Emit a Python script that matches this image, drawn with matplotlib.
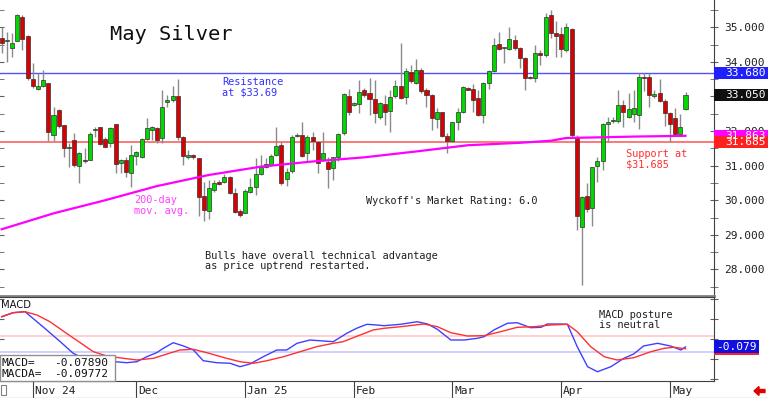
import numpy as np
import matplotlib; matplotlib.use("Agg")
import matplotlib.pyplot as plt
from matplotlib.patches import Rectangle, FancyArrow
from matplotlib.transforms import blended_transform_factory as blend

MONO = "DejaVu Sans Mono"
GRN, RED = "#00d800", "#d80000"

# daily OHLC, Oct 24 2024 .. May 6 2025 (trading-day index)
opens = [34.68, 34.59, 34.39, 34.59, 35.31, 34.75, 33.51, 33.21, 33.30, 33.38,
         31.89, 32.61, 32.17, 31.50, 31.74, 30.99, 31.17, 31.17, 32.02, 32.11,
         31.76, 31.65, 32.20, 31.07, 31.15, 30.80, 31.28, 31.24, 31.76, 32.03,
         32.10, 31.79, 32.85, 32.90, 33.01, 31.82, 31.26, 31.31, 31.21, 30.11,
         29.70, 30.30, 30.54, 30.54, 30.68, 30.22, 29.69, 29.64, 30.25, 30.38,
         30.76, 30.97, 31.01, 31.31, 31.60, 30.62, 30.85, 31.86, 31.89, 31.36,
         31.82, 31.69, 31.17, 31.10, 30.92, 31.24, 31.94, 33.02, 32.76, 32.77,
         33.19, 33.09, 32.93, 32.40, 32.78, 32.58, 33.00, 33.31, 32.98, 33.72,
         33.40, 33.77, 33.19, 33.04, 32.35, 32.54, 31.87, 31.70, 32.26, 32.56,
         33.24, 33.21, 32.95, 32.47, 33.38, 33.74, 34.51, 34.39, 34.37, 34.63,
         34.41, 34.12, 33.56, 33.53, 34.27, 34.20, 35.36, 34.83, 34.80, 34.34,
         34.94, 31.84, 29.22, 30.11, 29.77, 31.00, 31.12, 32.20, 32.28, 32.30,
         32.76, 32.42, 32.49, 32.45, 33.56, 33.55, 33.02, 33.09, 32.88, 32.51,
         32.39, 31.92, 32.64]
highs = [35.02, 34.87, 34.83, 35.39, 35.36, 34.78, 33.96, 33.67, 33.77, 33.38,
         32.69, 32.63, 32.18, 31.65, 31.94, 31.38, 31.50, 31.98, 32.11, 32.13,
         31.82, 32.13, 32.21, 31.18, 31.26, 31.60, 31.41, 31.79, 32.37, 32.15,
         32.13, 33.19, 33.04, 33.30, 33.51, 31.86, 31.45, 31.34, 31.21, 30.54,
         30.59, 30.59, 30.59, 30.76, 30.70, 30.35, 29.74, 30.32, 30.64, 31.21,
         31.31, 31.21, 31.34, 32.13, 31.67, 30.92, 31.89, 31.94, 32.27, 31.89,
         31.98, 31.70, 31.98, 31.26, 31.26, 31.94, 33.09, 33.21, 32.85, 33.48,
         33.24, 33.53, 33.48, 32.85, 33.04, 33.19, 33.48, 34.56, 33.82, 33.91,
         34.07, 33.82, 33.24, 33.06, 32.68, 32.56, 31.94, 32.27, 32.66, 33.30,
         33.26, 33.36, 33.19, 33.43, 33.77, 34.68, 34.86, 34.44, 35.00, 34.78,
         34.44, 34.15, 33.58, 34.49, 34.34, 35.40, 35.50, 35.19, 35.02, 35.13,
         34.97, 31.89, 30.11, 30.51, 30.97, 31.24, 32.23, 32.40, 32.42, 33.19,
         32.90, 33.09, 33.19, 33.69, 33.69, 33.69, 33.19, 33.51, 32.92, 32.56,
         32.68, 32.49, 33.14]
lows = [34.25, 34.01, 34.15, 34.59, 34.35, 33.48, 33.24, 33.19, 33.27, 31.70,
        31.70, 32.08, 31.26, 30.97, 30.97, 30.49, 31.09, 31.15, 31.84, 31.60,
        31.53, 31.55, 30.80, 30.78, 30.68, 30.39, 31.02, 31.21, 31.74, 31.74,
        31.65, 31.65, 32.71, 32.85, 31.74, 31.02, 31.18, 31.18, 29.53, 29.41,
        29.46, 30.25, 30.44, 30.49, 30.18, 29.62, 29.51, 29.62, 30.20, 30.15,
        30.73, 30.92, 30.99, 31.28, 30.44, 30.41, 30.80, 31.84, 31.24, 31.12,
        31.46, 30.78, 31.12, 30.35, 30.59, 31.12, 31.89, 32.47, 32.73, 32.51,
        32.99, 32.47, 32.23, 32.34, 32.18, 31.96, 32.95, 32.93, 32.78, 33.40,
        33.36, 33.09, 32.71, 32.03, 32.08, 31.84, 31.36, 31.67, 32.03, 32.51,
        33.19, 32.54, 32.44, 32.23, 33.21, 33.72, 34.34, 33.96, 34.34, 34.34,
        33.82, 33.19, 33.50, 33.43, 33.91, 34.13, 34.68, 34.15, 34.15, 34.30,
        31.79, 29.14, 27.55, 29.67, 29.24, 30.54, 30.88, 31.67, 32.23, 32.24,
        32.11, 32.37, 32.27, 32.05, 33.17, 32.71, 32.95, 32.85, 32.15, 31.67,
        31.89, 31.89, 32.61]
closes = [34.56, 34.63, 34.56, 35.36, 34.65, 33.53, 33.29, 33.30, 33.48, 31.98,
          32.47, 32.15, 31.50, 31.55, 31.02, 31.36, 31.12, 31.91, 32.05, 31.63,
          31.55, 32.09, 31.05, 31.15, 30.83, 31.31, 31.38, 31.76, 32.08, 32.12,
          31.74, 32.69, 32.90, 33.02, 31.84, 31.28, 31.30, 31.24, 30.08, 29.72,
          30.35, 30.49, 30.48, 30.68, 30.22, 29.65, 29.58, 30.28, 30.37, 30.76,
          30.95, 31.05, 31.29, 31.58, 30.51, 30.83, 31.84, 31.90, 31.28, 31.84,
          31.70, 31.09, 31.36, 30.91, 31.26, 31.91, 33.06, 32.54, 32.80, 33.14,
          33.04, 32.93, 32.51, 32.80, 32.56, 32.99, 33.29, 32.97, 33.74, 33.45,
          33.77, 33.17, 33.04, 32.37, 32.56, 31.87, 31.70, 32.26, 32.56, 33.26,
          33.20, 32.90, 32.47, 33.38, 33.74, 34.49, 34.36, 34.42, 34.65, 34.41,
          34.12, 33.53, 33.52, 34.25, 34.20, 35.31, 34.83, 34.76, 34.36, 35.00,
          31.89, 29.53, 30.09, 29.75, 30.95, 31.12, 32.21, 32.27, 32.32, 32.76,
          32.54, 32.64, 32.66, 33.55, 33.53, 33.04, 33.07, 32.88, 32.51, 32.21,
          31.91, 32.13, 33.05]

# 200-day moving average read at a few bars
ma_idx = [0, 10, 20, 30, 40, 50, 60, 70, 80, 90, 100, 106, 109, 116, 122, 132]
ma_val = [29.16, 29.62, 30.00, 30.41, 30.73, 30.97, 31.12, 31.24, 31.41, 31.59,
          31.66, 31.72, 31.80, 31.82, 31.84, 31.863]

# MACD (blue) and MACDA signal (red)
macd_k = [0, 2.2, 4.5, 6.8, 8.7, 11.3, 13.8, 16.4, 19.0, 21.9, 24.1, 26.1, 28.0, 29.9, 31.2,
          33.1, 35.1, 37.0, 38.9, 41.5, 44.1, 46.0, 47.9, 50.5, 53.1, 55.0, 57.0, 59.5, 62.1,
          64.0, 66.6, 68.5, 70.5, 72.4, 73.8, 77.0, 80.2, 82.2, 84.1, 86.7, 89.3, 91.8, 93.1,
          95.0, 97.6, 99.5, 102.1, 104.1, 105.3, 107.9, 109.2, 111.1, 113.1, 115.0, 117.6,
          120.1, 122.0, 123.9, 126.6, 129.1, 131.1, 132]
macd_v = [0.223, 0.263, 0.273, 0.173, 0.09, -0.027, -0.143, -0.21, -0.24, -0.227, -0.237,
          -0.227, -0.177, -0.137, -0.093, -0.037, -0.07, -0.11, -0.217, -0.237, -0.243,
          -0.277, -0.25, -0.177, -0.11, -0.11, -0.043, -0.01, -0.02, -0.027, 0.057, 0.107,
          0.147, 0.14, 0.133, 0.147, 0.173, 0.15, 0.097, -0.01, -0.01, 0.007, 0.023, 0.09,
          0.157, 0.163, 0.113, 0.117, 0.15, 0.15, 0.147, -0.077, -0.277, -0.327, -0.277,
          -0.193, -0.15, -0.07, -0.043, -0.07, -0.11, -0.079]
sig_k = [0, 2.2, 4.5, 6.8, 9.3, 12.5, 15.8, 17.7, 20.3, 23.5, 26.1, 29.3, 31.9, 34.4, 37.0,
         39.6, 43.4, 46.0, 48.6, 51.2, 54.4, 57.6, 60.8, 64.0, 65.9, 69.2, 71.7, 73.8, 77.0,
         81.5, 84.1, 86.7, 89.9, 93.1, 96.3, 99.5, 102.8, 106.0, 109.2, 111.1, 113.7, 116.3,
         118.8, 122.0, 125.3, 127.9, 129.8, 132]
sig_v = [0.223, 0.263, 0.273, 0.24, 0.173, 0.057, -0.06, -0.127, -0.17, -0.193, -0.21,
         -0.193, -0.15, -0.11, -0.103, -0.137, -0.193, -0.227, -0.243, -0.217, -0.177,
         -0.127, -0.077, -0.043, -0.027, 0.04, 0.09, 0.107, 0.123, 0.15, 0.123, 0.063, 0.03,
         0.033, 0.073, 0.117, 0.123, 0.14, 0.147, 0.073, -0.077, -0.177, -0.21, -0.187,
         -0.127, -0.093, -0.083, -0.0977]

months = ["Nov 24", "Dec", "Jan 25", "Feb", "Mar", "Apr", "May"]
month_idx = [6, 26, 47, 68, 87, 108, 129]

resist, support, last, ma_last = 33.68, 31.685, 33.05, 31.863
macd_last, macda_last = -0.07890, -0.09772

o, h, l, c = map(np.array, (opens, highs, lows, closes))
k = np.arange(len(o))
XL = (-0.33, 137.5)

fig = plt.figure(figsize=(7.68, 3.98), dpi=100)
ax = fig.add_axes([0, 1 - 296/398, 714/768, 296/398])
ax2 = fig.add_axes([0, 1 - 381/398, 714/768, 84/398])
ax3 = fig.add_axes([0, 0, 714/768, 17/398])

# ---- price panel
ax.axhline(resist, color="#5050ff", lw=1, zorder=1)
ax.axhline(support, color="#ff6060", lw=1.2, zorder=1)
ax.vlines(k, l, h, color="#8a8a8a", lw=1, zorder=2)
up = c >= o
ax.bar(k, np.abs(c - o), bottom=np.minimum(o, c), width=0.78,
       color=np.where(up, GRN, RED), edgecolor="#303030", linewidth=0.5, zorder=3)
ax.plot(ma_idx, ma_val, color="#ff00ff", lw=1.6, zorder=4)
ax.set_xlim(*XL); ax.set_ylim(27.23, 35.79)
ax.set_xticks([])
ax.yaxis.tick_right()
ax.set_yticks(range(28, 36))
ax.set_yticks(np.arange(27.5, 35.6, 0.5), minor=True)
# 33.000 sits fully under the last-price box in the original, so it is left blank
ax.set_yticklabels(["" if v == 33 else f"{v:.3f}" for v in range(28, 36)],
                   family=MONO, fontsize=8, color="#202020")
ax.tick_params(axis="y", which="both", direction="inout", length=6, color="#606060",
               left=True, right=True, pad=4)
for s in ("left", "top"):
    ax.spines[s].set_visible(False)
ax.spines["right"].set_color("#404040")
ax.spines["bottom"].set_color("#808080"); ax.spines["bottom"].set_linewidth(2)

tr = blend(ax.transAxes, ax.transData)
for val, col in [(resist, "#2020ff"), (last, "#101010"), (ma_last, "#ff00ff"), (support, "#ff2020")]:
    ax.add_patch(Rectangle((1.0, val - 0.174), 0.0756, 0.348, transform=tr, facecolor=col,
                           edgecolor="none", clip_on=False, zorder=6))
    ax.text(1.044, val, f"{val:.3f}", transform=tr, ha="center", va="center", color="white",
            family=MONO, fontsize=8, zorder=7, clip_on=False)

ax.text(20.9, 34.78, "May Silver", family=MONO, fontsize=14.7, color="#101010", va="center")
ax.text(42.5, 33.26, "Resistance\nat $33.69", family=MONO, fontsize=7.4, color="#3030ff",
        va="center", linespacing=1.05)
ax.text(25.5, 29.85, "200-day\nmov. avg.", family=MONO, fontsize=7.4, color="#ff40ff",
        va="center", linespacing=1.05)
ax.text(120.5, 31.19, "Support at\n$31.685", family=MONO, fontsize=7.4, color="#ff3030",
        va="center", linespacing=1.05)
ax.text(70.3, 29.98, "Wyckoff's Market Rating: 6.0", family=MONO, fontsize=7.4,
        color="#202020", va="center")
ax.text(39.3, 28.24, "Bulls have overall technical advantage\nas price uptrend restarted.",
        family=MONO, fontsize=7.4, color="#202020", va="center", linespacing=1.05)

# ---- MACD panel
ax2.axhline(0.033, color="#ffc8c8", lw=1.2)
ax2.axhline(-0.13, color="#c8c8ff", lw=1.2)
ax2.plot(macd_k, macd_v, color="#4040ff", lw=1)
ax2.plot(sig_k, sig_v, color="#ff3030", lw=1)
ax2.set_xlim(*XL); ax2.set_ylim(-0.42, 0.42)
ax2.set_xticks([])
ax2.set_yticks(np.arange(-0.4, 0.41, 0.2)); ax2.set_yticklabels([])
ax2.tick_params(axis="y", direction="inout", length=6, color="#606060", left=True, right=True)
ax2.spines["left"].set_visible(False)
for s in ("top", "right", "bottom"):
    ax2.spines[s].set_color("#404040")
ax2.text(0.002, 0.905, "MACD", transform=ax2.transAxes, fontsize=7.2, va="center", color="#101010")
ax2.add_patch(Rectangle((0, 0), 115/714, 26/84, transform=ax2.transAxes, facecolor="white",
                        edgecolor="#909090", lw=1, zorder=5, clip_on=False))
for yy, lab, val in [(0.218, "MACD=", macd_last), (0.08, "MACDA=", macda_last)]:
    ax2.text(0.002, yy, lab, transform=ax2.transAxes, family=MONO, fontsize=8, va="center",
             color="#101010", zorder=6)
    ax2.text(0.151, yy, f"{val:.5f}", transform=ax2.transAxes, family=MONO, fontsize=8,
             va="center", ha="right", color="#101010", zorder=6)
ax2.text(115.3, 0.19, "MACD posture\nis neutral", family=MONO, fontsize=7.4, color="#202020",
         va="center", linespacing=1.05)
tr2 = blend(ax2.transAxes, ax2.transData)
ax2.add_patch(Rectangle((1.0, -0.16), 0.063, 0.12, transform=tr2, facecolor="#ff2020",
                        edgecolor="none", clip_on=False, zorder=6))
ax2.add_patch(Rectangle((1.0, -0.14), 0.063, 0.13, transform=tr2, facecolor="#1010e0",
                        edgecolor="none", clip_on=False, zorder=7))
ax2.text(1.0315, -0.075, f"{macd_last:.3f}", transform=tr2, ha="center", va="center",
         color="white", family=MONO, fontsize=8, zorder=8, clip_on=False)

# ---- date strip
ax3.set_xlim(*XL); ax3.set_ylim(0, 1)
ax3.axis("off")
for m, i in zip(months, month_idx):
    ax3.axvline(i, 0.05, 0.95, color="#404040", lw=0.8)
    ax3.text(i + 0.4, 0.42, m, family=MONO, fontsize=8, color="#202020", va="center")
fig.patches.append(Rectangle((0.001, 3/398), 5/768, 10/398, transform=fig.transFigure,
                             facecolor="none", edgecolor="#808080", lw=0.8))
fig.patches.append(FancyArrow(765/768, 1 - 391/398, -11/768, 0, width=3/398, head_width=9/398,
                              head_length=5/768, length_includes_head=True, color="#e00000",
                              transform=fig.transFigure))
fig.add_artist(plt.Line2D([0, 1], [0.5/398, 0.5/398], color="#c0c0c0", lw=1))

fig.savefig("out.png", dpi=100)
